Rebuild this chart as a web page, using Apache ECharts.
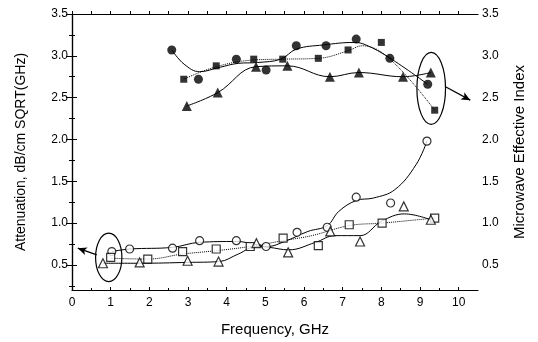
<!DOCTYPE html>
<html>
<head>
<meta charset="utf-8">
<script src="https://cdn.jsdelivr.net/npm/echarts@6/dist/echarts.min.js"></script>
<style>
  html, body { margin: 0; padding: 0; background: #fff; }
  #chart { width: 538px; height: 342px; }
</style>
</head>
<body>
<div id="chart"></div>
<script>
// effective index group (right axis, filled markers)
var idxCircle = [[2.58,3.07],[3.27,2.72],[4.25,2.96],[5.02,2.83],[5.8,3.12],[6.57,3.12],[7.35,3.20],[8.22,2.97],[9.2,2.66]]
var idxSquare = [[2.89,2.72],[3.73,2.88],[4.7,2.96],[5.45,2.96],[6.37,2.97],[7.14,3.07],[8.0,3.16],[9.38,2.35]]
var idxTriangle = [[2.97,2.40],[3.77,2.56],[4.76,2.87],[5.57,2.88],[6.67,2.75],[7.42,2.80],[8.56,2.75],[9.28,2.80]]
// fitted curves
var idxCircleFit = [[2.58,3.07],[2.9,2.9],[3.3,2.81],[3.8,2.86],[4.3,2.91],[4.8,2.92],[5.4,2.96],[5.8,3.08],[6.5,3.13],[7.3,3.16],[7.6,3.13],[8.2,2.98],[9.2,2.66]]
var idxSquareFit = [[2.89,2.72],[3.73,2.87],[4.7,2.95],[5.45,2.96],[6.37,2.97],[7.14,3.06],[7.5,3.12],[8.2,2.97],[9.38,2.35]]
var idxTriangleFit = idxTriangle

// attenuation group (left axis, open markers)
var attCircle = [[1.03,0.66],[1.49,0.69],[2.6,0.70],[3.3,0.79],[4.25,0.79],[5.02,0.72],[5.82,0.89],[6.6,0.95],[7.35,1.31],[8.24,1.24],[9.18,1.98]]
var attSquare = [[1.0,0.59],[1.96,0.57],[2.86,0.66],[3.73,0.69],[4.61,0.72],[5.46,0.82],[6.37,0.73],[7.17,0.98],[8.02,1.0],[9.38,1.06]]
var attTriangle = [[0.8,0.52],[1.75,0.53],[2.99,0.55],[3.79,0.54],[4.77,0.76],[5.59,0.65],[6.68,0.90],[7.45,0.78],[8.58,1.20],[9.28,1.04]]
var attCircleFit = [[1.03,0.66],[1.5,0.69],[2.6,0.71],[3.3,0.77],[4.25,0.78],[4.8,0.74],[5.05,0.72],[5.5,0.78],[6.1,0.9],[6.6,0.97],[6.9,1.14],[7.35,1.27],[7.8,1.3],[8.35,1.4],[8.9,1.7],[9.18,1.98]]
var attSquareFit = [[1.0,0.58],[1.96,0.57],[2.86,0.63],[3.73,0.67],[4.6,0.72],[5.46,0.79],[6.2,0.85],[7.17,0.97],[8.02,1.0],[9.38,1.06]]
var attTriangleFit = [[0.8,0.52],[1.75,0.52],[3.0,0.53],[3.8,0.54],[4.3,0.63],[4.77,0.72],[5.1,0.71],[5.6,0.68],[6.3,0.77],[6.8,0.85],[7.45,0.85],[8.0,1.02],[8.6,1.11],[9.28,1.04]]

// tick values
var xTicks = [0,1,2,3,4,5,6,7,8,9,10]
var xMinor = [0.5,1.5,2.5,3.5,4.5,5.5,6.5,7.5,8.5,9.5]
var yTicks = [0.5,1.0,1.5,2.0,2.5,3.0,3.5]
var yMinor = [0.25,0.75,1.25,1.75,2.25,2.75,3.25]

var font = 'Liberation Sans, Arial, sans-serif'
var ink = '#000'

function xAx(pos, ticks, len, inside, labels, extra) {
  var a = {
    type: 'value', position: pos, min: 0, max: 10.5,
    axisLine: { show: true, lineStyle: { color: ink, width: 1.2 } },
    axisTick: { show: true, inside: inside, length: len, customValues: ticks, lineStyle: { color: ink, width: 1 } },
    axisLabel: labels ? { show: true, customValues: ticks, color: ink, fontFamily: font, fontSize: 12, margin: 7 } : { show: false },
    splitLine: { show: false }
  }
  return Object.assign(a, extra || {})
}
function yAx(pos, ticks, len, labels, extra) {
  var a = {
    type: 'value', position: pos, min: 0.2, max: 3.5,
    axisLine: { show: true, lineStyle: { color: ink, width: 1.2 } },
    axisTick: { show: true, inside: false, length: len, customValues: ticks, lineStyle: { color: ink, width: 1 } },
    axisLabel: labels ? { show: true, customValues: ticks, color: ink, fontFamily: font, fontSize: 12, margin: 4,
      formatter: function (v) { return v.toFixed(1) } } : { show: false },
    splitLine: { show: false }
  }
  return Object.assign(a, extra || {})
}

function markers(data, symbol, size, filled, yi) {
  return {
    type: 'scatter', data: data, symbol: symbol, symbolSize: size, yAxisIndex: yi, z: 5,
    itemStyle: filled ? { color: '#000' } : { color: '#fff', borderColor: '#000', borderWidth: 1.2 }
  }
}
function fit(data, dash, yi, extra) {
  var s = {
    type: 'line', data: data, yAxisIndex: yi, smooth: 0.4, showSymbol: false, symbol: 'none', z: 3,
    lineStyle: { color: '#000', width: 1, type: dash }
  }
  return Object.assign(s, extra || {})
}

var option = {
  animation: false,
  grid: { left: 72, right: 60, top: 14, bottom: 46 },
  xAxis: [
    xAx('bottom', xTicks, 3, true, true, {
      name: 'Frequency, GHz', nameLocation: 'middle', nameGap: 32,
      nameTextStyle: { color: ink, fontFamily: font, fontSize: 15 }
    }),
    xAx('bottom', xMinor, 2, true, false, { axisLine: { show: false } }),
    xAx('top', xTicks, 3, false, false),
    xAx('top', xMinor, 3, false, false, { axisLine: { show: false } })
  ],
  yAxis: [
    yAx('left', yTicks, 6, true, {
      name: 'Attenuation, dB/cm SQRT(GHz)', nameLocation: 'middle', nameGap: 44, nameRotate: 90,
      nameTextStyle: { color: ink, fontFamily: font, fontSize: 14 }
    }),
    yAx('left', yMinor, 3, false, { axisLine: { show: false } }),
    yAx('right', yTicks, 5, true, {
      name: 'Microwave Effective Index', nameLocation: 'middle', nameGap: 34, nameRotate: 90,
      nameTextStyle: { color: ink, fontFamily: font, fontSize: 15 }
    }),
    yAx('right', yMinor, 3, false, { axisLine: { show: false } })
  ],
  series: [
    fit(idxCircleFit, 'solid', 2),
    fit(idxSquareFit, 'dotted', 2),
    fit(idxTriangleFit, 'solid', 2, {
      markLine: {
        silent: true, symbol: ['none', 'arrow'], symbolSize: [6, 9],
        label: { show: false },
        lineStyle: { color: '#000', width: 1.2, type: 'solid' },
        data: [[{ coord: [9.66, 2.63] }, { coord: [10.3, 2.47] }]]
      }
    }),
    fit(attCircleFit, 'solid', 0),
    fit(attSquareFit, 'dotted', 0),
    fit(attTriangleFit, 'solid', 0, {
      markLine: {
        silent: true, symbol: ['none', 'arrow'], symbolSize: [6, 9],
        label: { show: false },
        lineStyle: { color: '#000', width: 1.2, type: 'solid' },
        data: [[{ coord: [0.64, 0.62] }, { coord: [0.15, 0.70] }]]
      }
    }),
    markers(idxCircle, 'circle', 9, true, 2),
    markers(idxSquare, 'rect', 7, true, 2),
    markers(idxTriangle, 'triangle', 10, true, 2),
    markers(attCircle, 'circle', 8, false, 0),
    markers(attSquare, 'rect', 8, false, 0),
    markers(attTriangle, 'triangle', 9, false, 0)
  ]
}

var chart = echarts.init(document.getElementById('chart'), null, { renderer: 'canvas' })
chart.setOption(option)

// group ellipses, placed through the axis scales
var rings = [
  { c: [0.95, 0.59], r: [0.34, 0.29] },
  { c: [9.29, 2.61], r: [0.37, 0.43] }
]
var shapes = rings.map(function (e) {
  var p = chart.convertToPixel({ xAxisIndex: 0, yAxisIndex: 0 }, e.c)
  var q = chart.convertToPixel({ xAxisIndex: 0, yAxisIndex: 0 }, [e.c[0] + e.r[0], e.c[1] + e.r[1]])
  return {
    type: 'ellipse', silent: true, z: 10,
    shape: { cx: p[0], cy: p[1], rx: Math.abs(q[0] - p[0]), ry: Math.abs(q[1] - p[1]) },
    style: { fill: null, stroke: '#000', lineWidth: 1.2 }
  }
})
chart.setOption({ graphic: shapes })
</script>
</body>
</html>
